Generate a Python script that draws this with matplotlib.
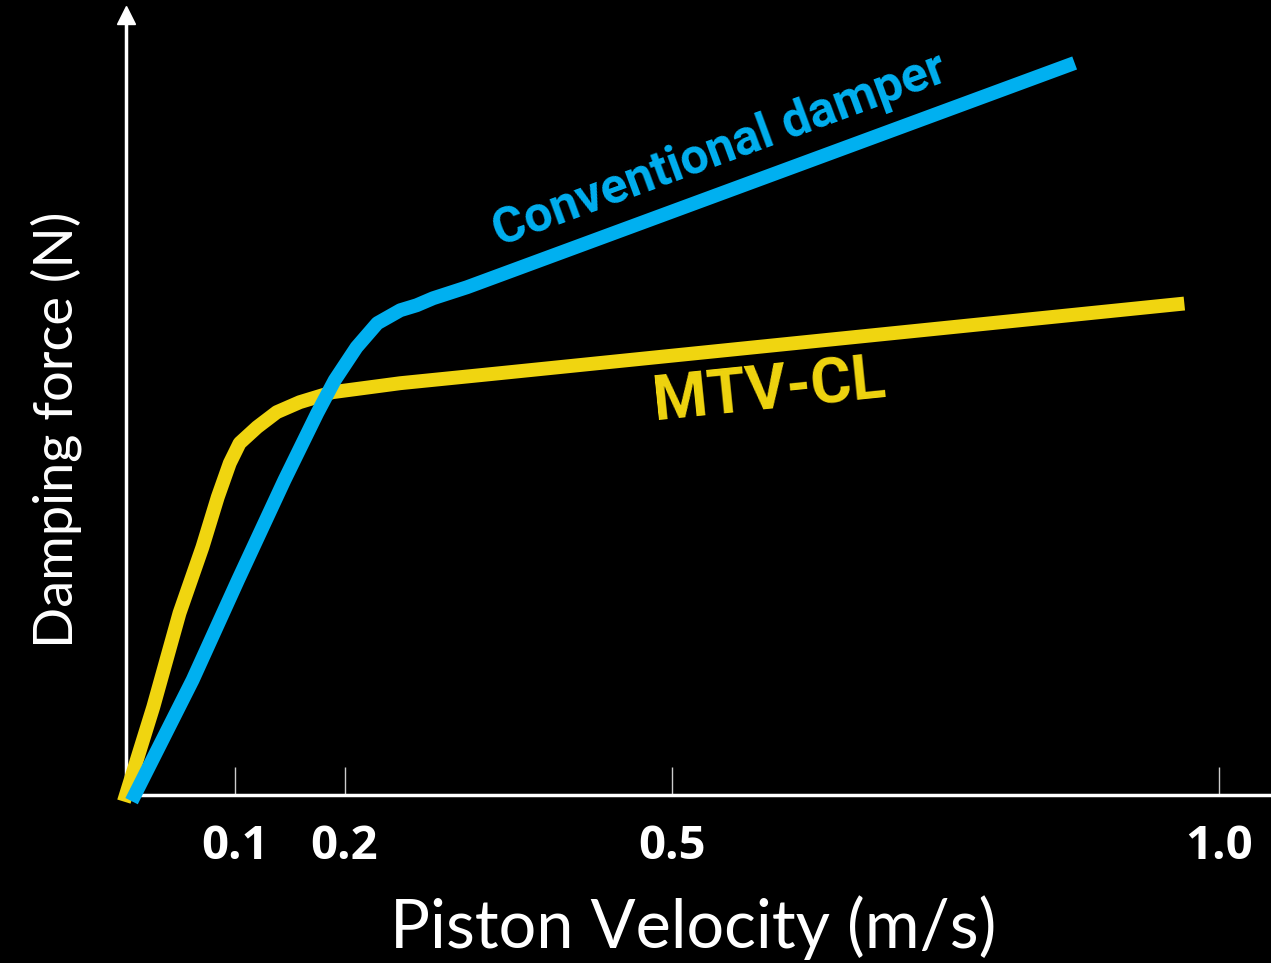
import matplotlib
matplotlib.use("Agg")
import matplotlib.pyplot as plt

# piston velocity (m/s) and damping force (arbitrary N, no scale shown)
mtv_v = [0.0, 0.025, 0.049, 0.070, 0.084, 0.095, 0.104, 0.120, 0.138, 0.159, 0.189, 0.251, 0.342, 0.962]
mtv_f = [0, 176, 364, 496, 596, 664, 704, 736, 766, 786, 806, 824, 844, 982]

conv_v = [0.008, 0.061, 0.1025, 0.145, 0.175, 0.191, 0.211, 0.230, 0.251, 0.266, 0.281, 0.312, 0.862]
conv_f = [0, 230, 430, 630, 764, 830, 896, 944, 970, 980, 994, 1016, 1460]

ticks = [0.1, 0.2, 0.5, 1.0]
tick_labels = ["0.1", "0.2", "0.5", "1.0"]

blue = "#00b0f0"
yellow = "#f0d510"

fig = plt.figure(figsize=(12.71, 9.63), dpi=100, facecolor="black")
ax = fig.add_axes([0.0991, 0.1745, 0.9009, 0.8095])
ax.set_facecolor("black")

ax.plot(mtv_v, mtv_f, color=yellow, lw=10, solid_joinstyle="round", clip_on=False, zorder=3)
ax.plot(conv_v, conv_f, color=blue, lw=10, solid_joinstyle="round", clip_on=False, zorder=4)

ax.set_xlim(0, 1.0476)
ax.set_ylim(0, 1560)

for s in ["top", "right"]:
    ax.spines[s].set_visible(False)
ax.spines["left"].set_color("white")
ax.spines["left"].set_linewidth(2.5)
ax.spines["bottom"].set_color("white")
ax.spines["bottom"].set_linewidth(2.5)
ax.set_yticks([])

# arrow head on y axis
ax.plot([0], [1], marker="^", ms=13, color="white", transform=ax.transAxes, clip_on=False)

ax.set_xticks(ticks)
ax.set_xticklabels(tick_labels, fontsize=34, fontweight="bold", color="white", family="Open Sans")
ax.tick_params(axis="x", direction="in", length=20, width=1, color="#cccccc", pad=20)

fig.text(0.545, 0.037, "Piston Velocity (m/s)", color="white", fontsize=48, family="Lato",
         ha="center", va="center")
fig.text(0.044, 0.554, "Damping force (N)", color="white", fontsize=39, family="Lato",
         ha="center", va="center", rotation=90)

ax.text(0.543, 1290, "Conventional damper", color=blue, fontsize=36, fontweight="bold",
        family="Roboto", rotation=20.3, ha="center", va="center", rotation_mode="anchor")
ax.text(0.589, 806, "MTV-CL", color=yellow, fontsize=45, fontweight="bold",
        family="Roboto", rotation=5.8, ha="center", va="center", rotation_mode="anchor")

fig.savefig("out.png", dpi=100, facecolor="black")
